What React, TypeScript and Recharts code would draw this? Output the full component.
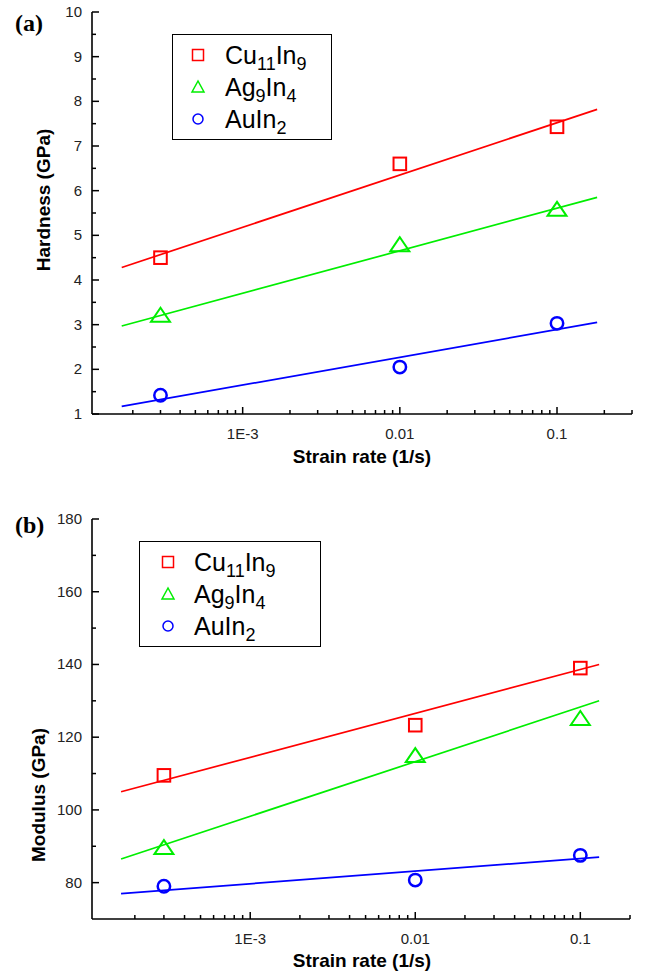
import React from 'react';
import { ComposedChart, Line, XAxis, YAxis, Legend } from 'recharts';

const compounds = ['Cu11In9', 'Ag9In4', 'AuIn2'];
const colors = ['#ff0000', '#00ee00', '#0000ff'];
const markers = ['square', 'triangle', 'circle'];

// measured points
const strainRates = [3e-4, 1e-2, 1e-1];
const hardnessCu = [4.5, 6.6, 7.43];
const hardnessAg = [3.2, 4.78, 5.57];
const hardnessAu = [1.42, 2.05, 3.03];
const modulusCu = [109.5, 123.3, 139];
const modulusAg = [89.5, 114.8, 125];
const modulusAu = [79, 80.7, 87.5];

// fitted lines (end points)
const fitRatesA = [1.7e-4, 0.18];
const fitHardnessCu = [4.28, 7.82];
const fitHardnessAg = [2.97, 5.85];
const fitHardnessAu = [1.17, 3.05];
const fitRatesB = [1.65e-4, 0.13];
const fitModulusCu = [105, 140];
const fitModulusAg = [86.5, 130];
const fitModulusAu = [77, 87];

// axis ticks
const rateTicksA = [
  0.0002, 0.0003, 0.0004, 0.0005, 0.0006, 0.0007, 0.0008, 0.0009,
  0.001, 0.002, 0.003, 0.004, 0.005, 0.006, 0.007, 0.008, 0.009,
  0.01, 0.02, 0.03, 0.04, 0.05, 0.06, 0.07, 0.08, 0.09,
  0.1, 0.2, 0.3,
];
const rateTicksB = [
  0.0002, 0.0003, 0.0004, 0.0005, 0.0006, 0.0007, 0.0008, 0.0009,
  0.001, 0.002, 0.003, 0.004, 0.005, 0.006, 0.007, 0.008, 0.009,
  0.01, 0.02, 0.03, 0.04, 0.05, 0.06, 0.07, 0.08, 0.09,
  0.1, 0.2,
];
const rateLabels: Record<string, string> = { '0.001': '1E-3', '0.01': '0.01', '0.1': '0.1' };
const hardnessTicks = [1, 1.5, 2, 2.5, 3, 3.5, 4, 4.5, 5, 5.5, 6, 6.5, 7, 7.5, 8, 8.5, 9, 9.5, 10];
const hardnessLabels = [1, 2, 3, 4, 5, 6, 7, 8, 9, 10];
const modulusTicks = [80, 90, 100, 110, 120, 130, 140, 150, 160, 170, 180];
const modulusLabels = [80, 100, 120, 140, 160, 180];

const SANS = '"Liberation Sans", Arial, sans-serif';
const SERIF = '"Liberation Serif", "Times New Roman", serif';

const toRows = (rates: number[], values: number[]) =>
  rates.map((rate, i) => ({ rate, value: values[i] }));

// digits become subscripts: Cu11In9 -> Cu₁₁In₉
function Formula({ name }: { name: string }) {
  const parts = name.match(/\d+|\D+/g) || [];
  return (
    <span>
      {parts.map((p, i) =>
        /\d/.test(p) ? (
          <span key={i} style={{ fontSize: '0.72em', position: 'relative', top: '0.32em' }}>{p}</span>
        ) : (
          <span key={i}>{p}</span>
        )
      )}
    </span>
  );
}

function Marker({ kind, cx, cy, color, small }: any) {
  if (cx == null || cy == null) return null;
  const sw = small ? 1.5 : 2;
  if (kind === 'square') {
    const h = small ? 5.5 : 6.3;
    return <rect x={cx - h} y={cy - h} width={h * 2} height={h * 2} fill="none" stroke={color} strokeWidth={sw} />;
  }
  if (kind === 'triangle') {
    const w = small ? 6 : 9.5;
    const t = small ? 6 : 8;
    const b = small ? 5 : 6;
    return (
      <polygon
        points={`${cx},${cy - t} ${cx - w},${cy + b} ${cx + w},${cy + b}`}
        fill="none"
        stroke={color}
        strokeWidth={sw}
        strokeLinejoin="miter"
      />
    );
  }
  return <circle cx={cx} cy={cy} r={small ? 5 : 6.2} fill="none" stroke={color} strokeWidth={small ? 1.5 : 2.5} />;
}

function LegendBox({ width, symX, textX }: { width: number; symX: number; textX: number }) {
  return (
    <div
      style={{
        width,
        height: 106,
        boxSizing: 'border-box',
        border: '1.5px solid #000',
        background: '#fff',
        paddingTop: 4,
        fontFamily: SANS,
        fontSize: 25,
        color: '#000',
      }}
    >
      {compounds.map((name, i) => (
        <div key={name} style={{ position: 'relative', height: 32, lineHeight: '32px' }}>
          <svg width={24} height={24} style={{ position: 'absolute', left: symX - 12, top: 4 }}>
            <Marker kind={markers[i]} cx={12} cy={12} color={colors[i]} small />
          </svg>
          <div style={{ position: 'absolute', left: textX, top: 0, whiteSpace: 'nowrap' }}>
            <Formula name={name} />
          </div>
        </div>
      ))}
    </div>
  );
}

interface PanelProps {
  tag: string;
  tagTop: number;
  yTitle: string;
  yTitlePos: [number, number];
  xTitleY: number;
  yDomain: [number, number];
  yTicks: number[];
  yLabels: number[];
  xDomain: [number, number];
  xTicks: number[];
  values: number[][];
  fitRates: number[];
  fits: number[][];
  margin: { top: number; right: number; bottom: number; left: number };
  xHeight: number;
  legend: { left: number; top: number; width: number; symX: number; textX: number };
}

function Panel(p: PanelProps) {
  const yTick = ({ x, y, payload }: any) => {
    const major = p.yLabels.includes(payload.value);
    return (
      <g>
        <line x1={x} x2={x + (major ? 7 : 4)} y1={y} y2={y} stroke="#000" strokeWidth={1.5} />
        {major && (
          <text x={x - 10} y={y} dy={5} textAnchor="end" fontSize={15} fontFamily={SANS} fill="#222">
            {payload.value}
          </text>
        )}
      </g>
    );
  };

  const xTick = ({ x, y, payload }: any) => {
    const label = rateLabels[String(payload.value)];
    return (
      <g>
        <line x1={x} x2={x} y1={y} y2={y - (label ? 7 : 4)} stroke="#000" strokeWidth={1.5} />
        {label && (
          <text x={x} y={y + 25} textAnchor="middle" fontSize={15} fontFamily={SANS} fill="#222">
            {label}
          </text>
        )}
      </g>
    );
  };

  const [ytx, yty] = p.yTitlePos;

  return (
    <div style={{ position: 'relative', width: 654, height: 488 }}>
      <div
        style={{
          position: 'absolute',
          left: 15,
          top: p.tagTop,
          fontFamily: SERIF,
          fontWeight: 'bold',
          fontSize: 24,
          lineHeight: '24px',
          zIndex: 2,
        }}
      >
        {p.tag}
      </div>
      <ComposedChart width={654} height={488} margin={p.margin}>
        <XAxis
          type="number"
          dataKey="rate"
          scale="log"
          domain={p.xDomain}
          allowDataOverflow
          ticks={p.xTicks}
          interval={0}
          tick={xTick}
          tickLine={false}
          tickSize={0}
          tickMargin={0}
          height={p.xHeight}
          axisLine={{ stroke: '#000', strokeWidth: 1.6 }}
          label={{
            content: () => (
              <text x={362} y={p.xTitleY} dy="0.35em" textAnchor="middle" fontFamily={SANS} fontWeight="bold" fontSize={19} fill="#000">
                Strain rate (1/s)
              </text>
            ),
          }}
        />
        <YAxis
          type="number"
          dataKey="value"
          domain={p.yDomain}
          allowDataOverflow
          ticks={p.yTicks}
          interval={0}
          tick={yTick}
          tickLine={false}
          tickSize={0}
          tickMargin={0}
          width={80}
          axisLine={{ stroke: '#000', strokeWidth: 1.6 }}
          label={{
            content: () => (
              <text
                x={ytx}
                y={yty}
                dy="0.35em"
                transform={`rotate(-90 ${ytx} ${yty})`}
                textAnchor="middle"
                fontFamily={SANS}
                fontWeight="bold"
                fontSize={19}
                fill="#000"
              >
                {p.yTitle}
              </text>
            ),
          }}
        />
        {compounds.map((name, i) => (
          <Line
            key={name + '-fit'}
            data={toRows(p.fitRates, p.fits[i])}
            dataKey="value"
            stroke={colors[i]}
            strokeWidth={1.7}
            dot={false}
            legendType="none"
            isAnimationActive={false}
          />
        ))}
        {compounds.map((name, i) => (
          <Line
            key={name}
            name={name}
            data={toRows(strainRates, p.values[i])}
            dataKey="value"
            stroke="none"
            dot={(d: any) => <Marker key={d.index} kind={markers[i]} cx={d.cx} cy={d.cy} color={colors[i]} />}
            isAnimationActive={false}
          />
        ))}
        <Legend
          layout="horizontal"
          verticalAlign="middle"
          align="center"
          content={() => <LegendBox width={p.legend.width} symX={p.legend.symX} textX={p.legend.textX} />}
          wrapperStyle={{ left: p.legend.left, top: p.legend.top, width: p.legend.width, height: 106 }}
        />
      </ComposedChart>
    </div>
  );
}

export default function App() {
  return (
    <div style={{ position: 'absolute', left: 0, top: 0, width: 654, height: 976, background: '#fff' }}>
      <Panel
        tag="(a)"
        tagTop={11}
        yTitle="Hardness (GPa)"
        yTitlePos={[43, 200]}
        xTitleY={456}
        yDomain={[1, 10]}
        yTicks={hardnessTicks}
        yLabels={hardnessLabels}
        xDomain={[1.1e-4, 0.3]}
        xTicks={rateTicksA}
        values={[hardnessCu, hardnessAg, hardnessAu]}
        fitRates={fitRatesA}
        fits={[fitHardnessCu, fitHardnessAg, fitHardnessAu]}
        margin={{ top: 12, right: 22, bottom: 14, left: 12 }}
        xHeight={60}
        legend={{ left: 172, top: 34, width: 160, symX: 25, textX: 52 }}
      />
      <Panel
        tag="(b)"
        tagTop={25}
        yTitle="Modulus (GPa)"
        yTitlePos={[38, 307]}
        xTitleY={472}
        yDomain={[70, 180]}
        yTicks={modulusTicks}
        yLabels={modulusLabels}
        xDomain={[1.1e-4, 0.2]}
        xTicks={rateTicksB}
        values={[modulusCu, modulusAg, modulusAu]}
        fitRates={fitRatesB}
        fits={[fitModulusCu, fitModulusAg, fitModulusAu]}
        margin={{ top: 31, right: 24, bottom: 12, left: 12 }}
        xHeight={45}
        legend={{ left: 139, top: 53, width: 182, symX: 28, textX: 54 }}
      />
    </div>
  );
}
